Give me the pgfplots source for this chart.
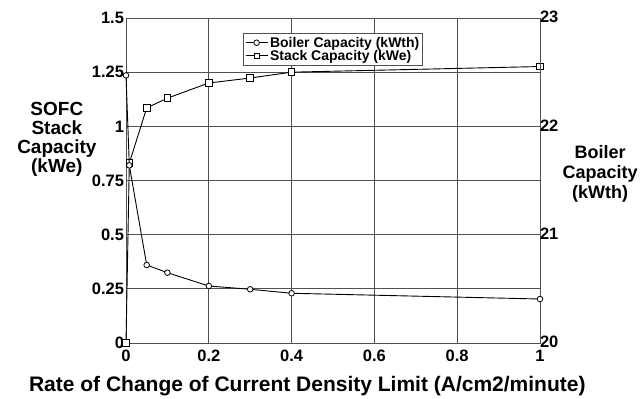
\documentclass[border=0pt]{standalone}
\usepackage{fontspec}
\setmainfont{Liberation Sans}
\usepackage{pgfplots}
\pgfplotsset{compat=1.18}
\definecolor{gridc}{HTML}{505050}
\begin{document}
\begin{tikzpicture}
\path[use as bounding box] (-126pt,-56pt) rectangle (515pt,343pt);
\begin{axis}[
  at={(0pt,0pt)}, anchor=south west, scale only axis,
  width=414pt, height=325pt,
  xmin=0, xmax=1, ymin=0, ymax=1.5,
  xtick={0,0.2,0.4,0.6,0.8,1},
  ytick={0,0.25,0.5,0.75,1,1.25,1.5},
  grid=major,
  major grid style={gridc, line width=0.9pt},
  axis line style={gridc, line width=0.9pt},
  major tick length=0pt,
  /pgf/number format/assume math mode=true,
  ticklabel style={font=\fontsize{16.5}{18}\selectfont\bfseries},
  xticklabel style={yshift=-3.5pt},
  yticklabel style={xshift=1.5pt},
  clip=false,
]
\addplot[black, line width=0.9pt, mark=square*, mark size=3.3pt,
  mark options={fill=white, line width=0.8pt}] coordinates {
  (0,0) (0.008,0.83) (0.05,1.085) (0.1,1.13) (0.2,1.20) (0.3,1.223) (0.4,1.25) (1,1.276)
};
\node[align=center, font=\fontsize{19}{19}\selectfont\bfseries]
  at (axis description cs:-0.167,0.628) {SOFC\\Stack\\Capacity\\(kWe)};
\node[font=\fontsize{21}{24}\selectfont\bfseries]
  at (axis description cs:0.438,-0.132) {Rate of Change of Current Density Limit (A/cm2/minute)};
\end{axis}
\begin{axis}[
  at={(0pt,0pt)}, anchor=south west, scale only axis,
  width=414pt, height=325pt,
  xmin=0, xmax=1, ymin=20, ymax=23,
  ytick={20,21,22,23},
  axis x line=none,
  axis y line*=right,
  axis line style={gridc, line width=0.9pt},
  major tick length=0pt,
  /pgf/number format/assume math mode=true,
  ticklabel style={font=\fontsize{16.5}{18}\selectfont\bfseries},
  yticklabel style={xshift=-3.5pt, yshift=1pt},
  clip=false,
  legend style={at={(rel axis cs:0.283,0.954)}, anchor=north west,
    draw=gridc, line width=0.9pt, fill=white,
    font=\fontsize{14}{15}\selectfont\bfseries,
    inner sep=1.5pt, row sep=-2.5pt},
  legend cell align=left,
  legend image code/.code={\draw[#1, mark repeat=2, mark phase=2] plot coordinates {(0pt,0pt) (11pt,0pt) (22pt,0pt)};},
]
\addplot[black, line width=0.9pt, mark=*, mark size=2.8pt,
  mark options={fill=white, line width=0.8pt}] coordinates {
  (0,22.47) (0.008,21.64) (0.05,20.72) (0.1,20.649) (0.2,20.526) (0.3,20.496) (0.4,20.459) (1,20.406)
};
\addlegendentry{Boiler Capacity (kWth)}
\addlegendimage{black, line width=0.9pt, mark=square*, mark size=2.6pt, mark options={fill=white, line width=0.8pt}}
\addlegendentry{Stack Capacity (kWe)}
\node[align=center, font=\fontsize{18}{20}\selectfont\bfseries]
  at (axis description cs:1.145,0.52) {Boiler\\Capacity\\(kWth)};
\end{axis}
\end{tikzpicture}
\end{document}
